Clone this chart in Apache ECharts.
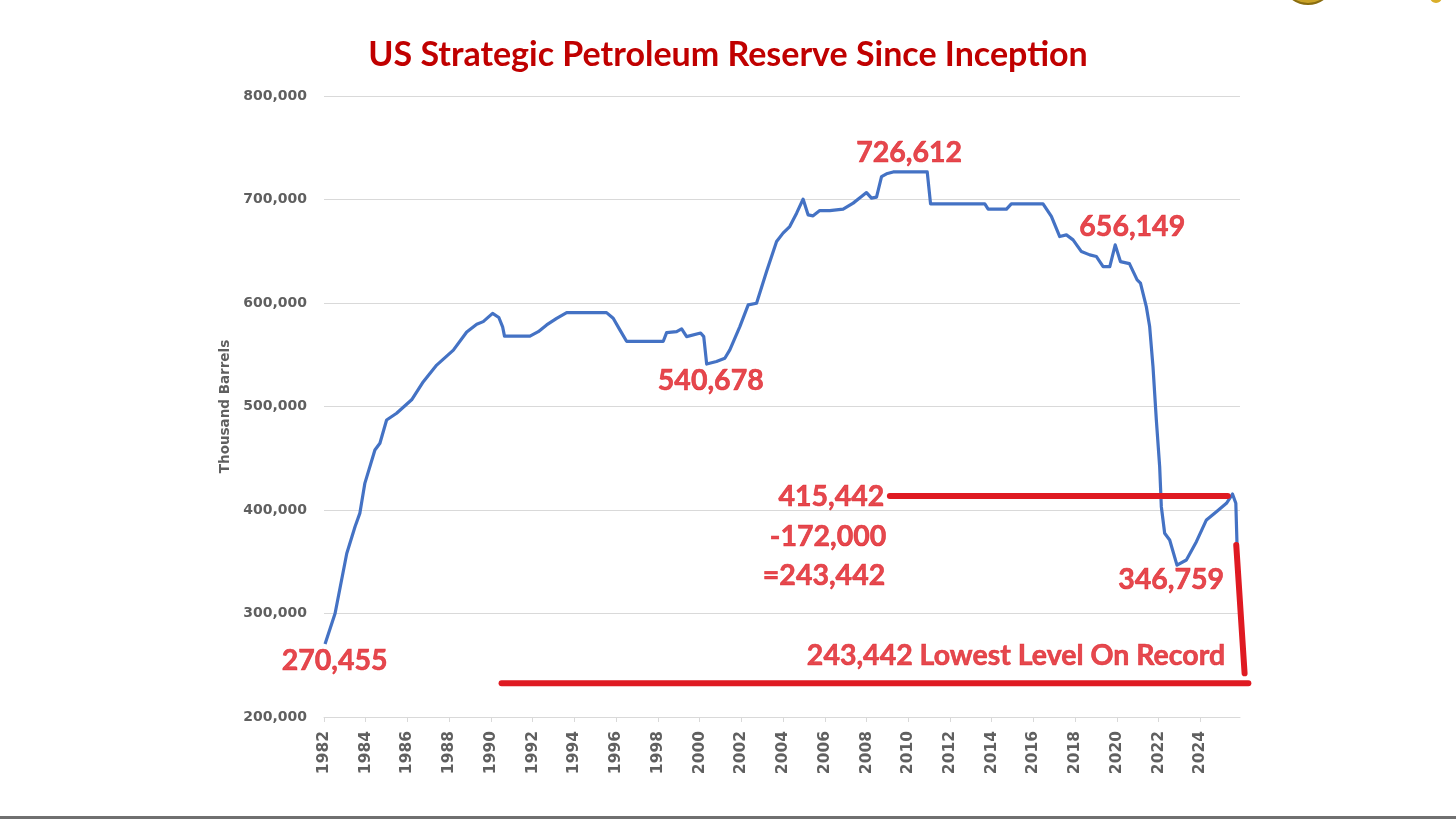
<!DOCTYPE html>
<html>
<head>
<meta charset="utf-8">
<script src="https://cdn.jsdelivr.net/npm/echarts@6/dist/echarts.min.js"></script>
<style>
  html, body { margin: 0; padding: 0; background: #ffffff; }
  #chart { width: 1456px; height: 819px; }
</style>
</head>
<body>
<div id="chart"></div>
<script>
// ---- data ----
const years = [
  1982.05, 1982.53, 1983.09, 1983.49, 1983.72, 1983.96, 1984.44, 1984.68, 1985.00, 1985.48,
  1986.20, 1986.76, 1987.40, 1988.20, 1988.84, 1989.32, 1989.63, 1990.08, 1990.38, 1990.56,
  1990.65, 1991.87, 1992.27, 1992.67, 1993.15, 1993.63, 1995.54, 1995.86, 1996.18, 1996.50,
  1998.26, 1998.42, 1998.90, 1999.14, 1999.38, 2000.05, 2000.20, 2000.34, 2000.81, 2001.21,
  2001.45, 2001.93, 2002.33, 2002.73, 2003.21, 2003.69, 2004.00, 2004.32, 2004.65, 2004.96,
  2005.20, 2005.44, 2005.76, 2006.24, 2006.88, 2007.36, 2007.76, 2008.00, 2008.24, 2008.48,
  2008.72, 2008.96, 2009.28, 2010.91, 2011.07, 2013.67, 2013.83, 2014.71, 2014.94, 2016.46,
  2016.86, 2017.26, 2017.58, 2017.90, 2018.30, 2018.70, 2019.02, 2019.34, 2019.66, 2019.92,
  2020.17, 2020.60, 2020.97, 2021.13, 2021.41, 2021.57, 2021.73, 2021.89, 2022.05, 2022.13,
  2022.29, 2022.53, 2022.88, 2023.33, 2023.81, 2024.29, 2024.77, 2025.25, 2025.54, 2025.70,
  2025.76
];
const reserve = [
  270455, 300000, 358000, 384000, 397000, 426000, 458000, 464500, 487000, 493500,
  506500, 524000, 540000, 554500, 572000, 579500, 582000, 590000, 586000, 577000,
  568000, 568000, 572300, 578800, 585200, 590700, 590700, 585200, 574000, 563000,
  563000, 571400, 572300, 575000, 567500, 571000, 567500, 541000, 543500, 546600,
  554700, 577200, 598200, 599800, 630400, 659400, 667500, 673900, 686800, 700400,
  685200, 684200, 689300, 689300, 690700, 696500, 702800, 706700, 701300, 702300,
  722100, 724800, 726612, 726612, 695800, 695800, 690700, 690700, 695800, 695800,
  683600, 664200, 665800, 661000, 649700, 646500, 644900, 635200, 635200, 656149,
  640000, 638000, 622300, 619100, 596500, 577200, 538500, 487000, 441900, 403200,
  377500, 371000, 346759, 351700, 369400, 390400, 398400, 406500, 415442, 406500,
  364600
];
const xTickLabels = [1982, 1984, 1986, 1988, 1990, 1992, 1994, 1996, 1998, 2000, 2002,
  2004, 2006, 2008, 2010, 2012, 2014, 2016, 2018, 2020, 2022, 2024];
const yTickValues = [200000, 300000, 400000, 500000, 600000, 700000, 800000];

// hand-drawn red annotation lines (data coordinates: [startYear, startValue, endYear, endValue])
const currentLevelLine = [2009.12, 413500, 2025.31, 413500];
const lowLevelLine = [1990.51, 232600, 2026.30, 232600];
const projectionLine = [2025.72, 366200, 2026.12, 242200];

// annotation texts
const annotationTexts = ['270,455', '540,678', '726,612', '656,149', '415,442',
  '-172,000', '=243,442', '346,759', '243,442 Lowest Level On Record'];

// ---- build chart ----
const fmt = v => String(v).replace(/\B(?=(\d{3})+(?!\d))/g, ',');
const RED = '#DF1A22';

const annotationAnchors = [
  { at: [1982.53, 254100], align: 'center' },
  { at: [2000.56, 524700], align: 'center' },
  { at: [2010.07, 745000], align: 'center' },
  { at: [2020.76, 673400], align: 'center' },
  { at: [2008.88, 412600], align: 'right' },
  { at: [2008.97, 373900], align: 'right' },
  { at: [2008.92, 336200], align: 'right' },
  { at: [2025.16, 332400], align: 'right' },
  { at: [2025.21, 258900], align: 'right' }
];
const annotationData = annotationTexts.map((t, i) => ({
  value: annotationAnchors[i].at,
  name: t,
  label: { align: annotationAnchors[i].align }
}));

const chart = echarts.init(document.getElementById('chart'), null, { renderer: 'canvas' });
const baseGraphics = [
  { type: 'rect', shape: { x: 0, y: 816, width: 1456, height: 3 }, style: { fill: '#707070' } },
  { type: 'circle', shape: { cx: 1308, cy: -22, r: 26 }, style: { fill: '#C9A227', stroke: '#8a6d10', lineWidth: 2 } },
  { type: 'circle', shape: { cx: 1436, cy: -3, r: 6 }, style: { fill: '#D9AE2A' } }
];
chart.setOption({
  animation: false,
  backgroundColor: '#ffffff',
  title: {
    text: 'US Strategic Petroleum Reserve Since Inception',
    left: 'center',
    top: 33,
    textStyle: { color: '#C00000', fontFamily: 'Lato', fontWeight: 'bold', fontSize: 34 }
  },
  grid: { left: 324, right: 216, top: 96, bottom: 102 },
  xAxis: {
    type: 'value',
    min: 1982,
    max: 2025.9,
    interval: 2,
    splitLine: { show: false },
    axisLine: { show: true, lineStyle: { color: '#d9d9d9', width: 1 } },
    axisTick: { show: true, length: 5, lineStyle: { color: '#d9d9d9' }, customValues: xTickLabels },
    axisLabel: {
      customValues: xTickLabels,
      rotate: 90,
      margin: 14,
      color: '#5f5f5f',
      fontFamily: 'DejaVu Sans',
      fontWeight: 'bold',
      fontSize: 15.5,
      formatter: v => String(v)
    }
  },
  yAxis: {
    type: 'value',
    min: 200000,
    max: 800000,
    interval: 100000,
    name: 'Thousand Barrels',
    nameLocation: 'middle',
    nameRotate: 90,
    nameGap: 84,
    nameTextStyle: { color: '#5f5f5f', fontFamily: 'DejaVu Sans', fontWeight: 'bold', fontSize: 13.5 },
    axisLine: { show: false },
    axisTick: { show: false },
    splitLine: { lineStyle: { color: '#d9d9d9', width: 1 } },
    axisLabel: {
      customValues: yTickValues,
      margin: 17,
      color: '#5f5f5f',
      fontFamily: 'DejaVu Sans',
      fontWeight: 'bold',
      fontSize: 14,
      formatter: v => fmt(v)
    }
  },
  graphic: baseGraphics,
  series: [
    {
      name: 'SPR',
      type: 'line',
      symbol: 'none',
      z: 3,
      lineStyle: { color: '#4472C4', width: 3.2, join: 'round' },
      data: years.map((y, i) => [y, reserve[i]])
    },
    {
      type: 'scatter',
      symbolSize: 1,
      clip: false,
      silent: true,
      z: 5,
      itemStyle: { color: 'transparent' },
      label: {
        show: true,
        position: [0, 0],
        verticalAlign: 'middle',
        color: RED,
        fontFamily: 'Lato',
        fontWeight: 'bold',
        fontSize: 28.5,
        textBorderColor: RED,
        textBorderWidth: 0.6,
        formatter: p => p.name
      },
      data: annotationData
    }
  ]
});

// red hand-drawn lines: positioned through the chart's own axes (may extend past the plot edge)
const toPx = (x, y) => chart.convertToPixel({ gridIndex: 0 }, [x, y]);
const redLines = [currentLevelLine, lowLevelLine, projectionLine].map(l => {
  const a = toPx(l[0], l[1]);
  const b = toPx(l[2], l[3]);
  return {
    type: 'line',
    z: 100,
    silent: true,
    shape: { x1: a[0], y1: a[1], x2: b[0], y2: b[1] },
    style: { stroke: RED, lineWidth: 6, lineCap: 'round' }
  };
});
chart.setOption({ graphic: baseGraphics.concat(redLines) });
</script>
</body>
</html>
